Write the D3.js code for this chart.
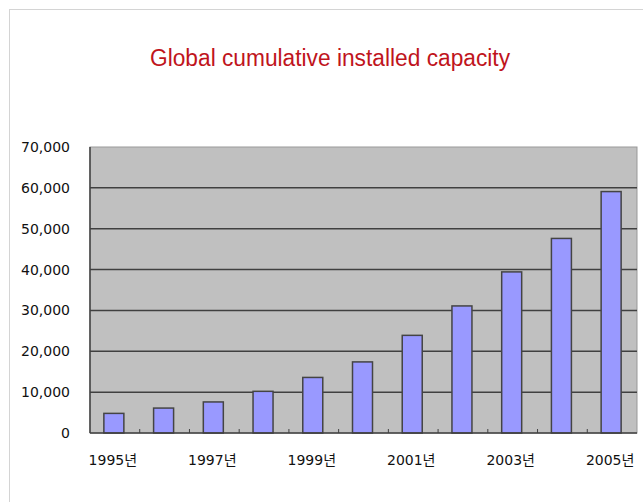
<!DOCTYPE html>
<html>
<head>
<meta charset="utf-8">
<script src="https://cdn.jsdelivr.net/npm/d3@7"></script>
<style>
  body { margin: 0; background: #fff; }
  svg { display: block; }
</style>
</head>
<body>
<div id="chart"></div>
<script>
// chart data
var years = ["1995", "1996", "1997", "1998", "1999", "2000", "2001", "2002", "2003", "2004", "2005"];
var capacity = [4800, 6100, 7600, 10200, 13600, 17400, 23900, 31100, 39431, 47620, 59091];
var yTicks = [0, 10000, 20000, 30000, 40000, 50000, 60000, 70000];
var labelYears = ["1995", "1997", "1999", "2001", "2003", "2005"];

var w = 643, h = 502;
var plotLeft = 90, plotRight = 637, plotTop = 147, plotBottom = 433;

var svg = d3.select("#chart").append("svg")
    .attr("width", w)
    .attr("height", h);

// outer frame
svg.append("rect")
    .attr("x", 9.5).attr("y", 9.5)
    .attr("width", 700).attr("height", 600)
    .attr("fill", "#fff")
    .attr("stroke", "#d4d4d4");

// title (narrow look, like the original)
svg.append("text")
    .attr("x", 150).attr("y", 66)
    .attr("fill", "#c0141c")
    .attr("textLength", 360)
    .attr("lengthAdjust", "spacingAndGlyphs")
    .style("font-family", "'Liberation Sans', Arial, sans-serif")
    .style("font-size", "23px")
    .text("Global cumulative installed capacity");

var x = d3.scaleBand().domain(years).range([plotLeft, plotRight]);
var y = d3.scaleLinear().domain([0, 70000]).range([plotBottom, plotTop]);

// plot background
svg.append("rect")
    .attr("x", plotLeft).attr("y", plotTop)
    .attr("width", plotRight - plotLeft).attr("height", plotBottom - plotTop)
    .attr("fill", "#c0c0c0")
    .attr("stroke", "#999");

// gridlines
svg.append("g")
    .selectAll("line")
    .data(yTicks.filter(d => d > 0 && d < 70000))
    .join("line")
    .attr("x1", plotLeft).attr("x2", plotRight)
    .attr("y1", d => y(d)).attr("y2", d => y(d))
    .attr("stroke", "#404040")
    .attr("stroke-width", 1.5);

// bars
svg.append("g")
    .selectAll("rect")
    .data(capacity)
    .join("rect")
    .attr("x", (d, i) => x(years[i]) + x.bandwidth() / 2 - 11)
    .attr("y", d => y(d))
    .attr("width", 20)
    .attr("height", d => plotBottom - y(d))
    .attr("fill", "#9999ff")
    .attr("stroke", "#444")
    .attr("stroke-width", 1.5);

// left axis line
svg.append("line")
    .attr("x1", plotLeft).attr("x2", plotLeft)
    .attr("y1", plotTop).attr("y2", plotBottom)
    .attr("stroke", "#404040").attr("stroke-width", 1.5);

// y axis labels
var fmt = d3.format(",");
svg.append("g")
    .selectAll("text")
    .data(yTicks)
    .join("text")
    .attr("x", 70)
    .attr("y", d => y(d) + 5)
    .attr("text-anchor", "end")
    .attr("fill", "#111")
    .style("font-family", "'DejaVu Sans', sans-serif")
    .style("font-size", "14px")
    .text(d => fmt(d));

// x axis with inward ticks at band edges
var xAxis = svg.append("g");
xAxis.append("line")
    .attr("x1", plotLeft).attr("x2", plotRight)
    .attr("y1", plotBottom).attr("y2", plotBottom)
    .attr("stroke", "#404040").attr("stroke-width", 1.5);
xAxis.selectAll(".tk")
    .data(years.slice(1))
    .join("line")
    .attr("class", "tk")
    .attr("x1", d => x(d)).attr("x2", d => x(d))
    .attr("y1", plotBottom).attr("y2", plotBottom - 4)
    .attr("stroke", "#404040");

xAxis.selectAll("text")
    .data(labelYears)
    .join("text")
    .attr("x", d => x(d) + x.bandwidth() / 2 - 2)
    .attr("y", 465)
    .attr("text-anchor", "middle")
    .attr("fill", "#111")
    .style("font-family", "'DejaVu Sans', 'Noto Sans CJK KR', sans-serif")
    .style("font-size", "14px")
    .text(d => d + "년");
</script>
</body>
</html>
